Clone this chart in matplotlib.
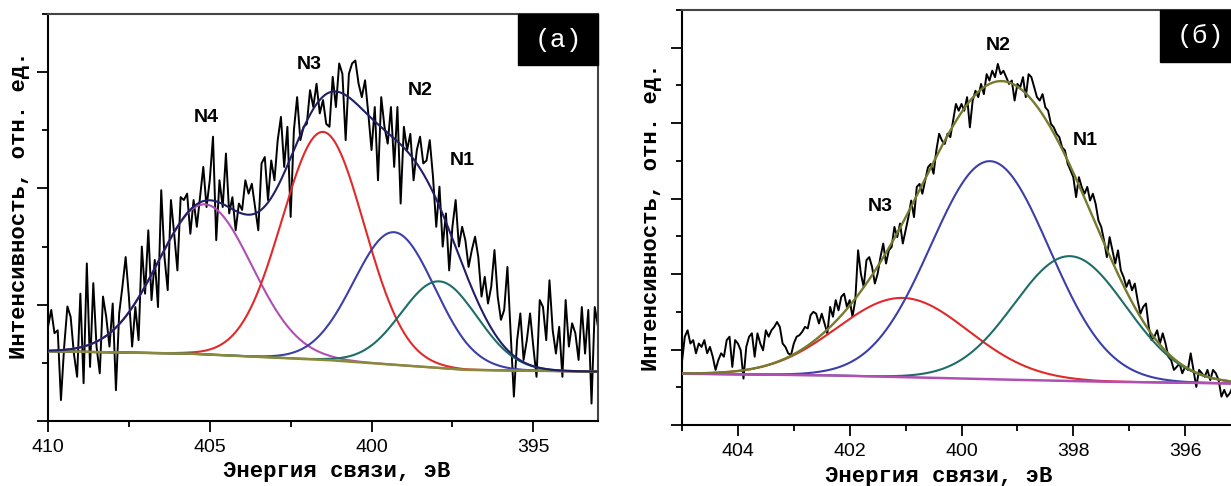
import numpy as np
import matplotlib
matplotlib.use('Agg')
import matplotlib.pyplot as plt
from matplotlib.ticker import MultipleLocator
from matplotlib.patches import Rectangle

plt.rcParams['font.family'] = ['Liberation Sans', 'DejaVu Sans']

# ---------- панель (а): спектр N1s, шаг 0.1 эВ от 410 до 393 ----------
int_a = [
    1.62, 1.91, 1.51, 1.56, 0.36, 1.28, 1.97, 1.79, 1.16, 0.76, 2.19, 0.65, 2.71, 0.93, 2.37,
    1.28, 0.82, 2.14, 1.79, 1.28, 2.02, 0.53, 1.85, 2.31, 2.82, 2.14, 1.28, 1.96, 1.39, 3.00,
    2.19, 3.28, 2.08, 2.77, 1.96, 3.97, 2.82, 2.25, 3.80, 3.22, 2.59, 3.85, 3.80,
    3.91, 3.22, 3.80, 3.34, 3.85, 4.37, 3.68, 4.14, 4.89, 3.11, 4.14, 3.68, 4.60, 3.57, 3.85,
    3.28, 3.74, 3.63, 4.14, 3.91, 4.08, 3.68, 3.28, 4.43, 4.54, 3.80, 4.48, 4.14, 4.83, 5.23,
    4.37, 5.06, 3.51, 5.00, 5.57, 4.83, 5.06, 5.11, 5.69, 5.40, 5.80, 5.29, 5.52, 5.11,
    5.06, 5.92, 5.40, 6.15, 5.97, 4.83, 5.97, 6.15, 6.20, 5.80, 5.57, 5.86, 5.29, 4.66, 5.40,
    4.14, 5.57, 5.06, 4.77, 5.40, 4.37, 5.40, 3.74, 5.06, 4.66, 4.94, 4.14, 4.66, 4.89, 4.43,
    4.48, 4.83, 4.20, 3.34, 4.03, 3.00, 3.57, 2.59, 3.34, 3.80, 3.00, 3.34,
    3.11, 2.65, 2.94, 3.17, 2.82, 2.14, 2.48, 2.02, 2.31, 2.94, 2.14, 1.74, 1.91, 2.65, 1.51,
    0.42, 1.39, 1.85, 1.05, 1.39, 1.85, 1.28, 0.76, 2.08, 1.96, 1.39, 2.42, 1.56, 1.16, 1.62,
    0.76, 2.08, 1.28, 1.68, 1.51, 1.05, 1.96, 1.16, 1.91, 0.30, 1.96, 1.62,
]
bg_a_e = [393.0, 397.1, 401.4, 405.7, 410.0]
bg_a_i = [0.85, 0.88, 1.05, 1.16, 1.20]
names_a = ['N4', 'N3', 'N2', 'N1']
center_a = [405.15, 401.5, 399.3, 397.9]
height_a = [2.58, 3.92, 2.28, 1.49]
sigma_a = [1.45, 1.27, 1.25, 1.18]

# ---------- панель (б): шаг 0.05 эВ от 405 до 395.1 ----------
int_b = [
    1.68, 2.34, 2.51, 2.16, 2.25, 1.90, 2.16, 2.07, 2.25, 1.90, 2.07, 1.81, 1.46, 1.72, 1.90,
    1.81, 2.25, 2.34, 1.54, 2.25, 2.16, 1.98, 1.23, 2.07, 2.34, 2.43, 1.81, 2.43, 2.16, 1.98,
    2.51, 2.34, 2.51, 2.60, 2.73, 2.60, 2.16, 2.07, 1.90, 1.85, 2.16, 2.34, 2.38, 2.47, 2.60,
    2.56, 2.91, 3.00, 2.95, 2.69,
    2.95, 2.69, 2.43, 3.13, 2.87, 3.31, 3.04, 3.40, 3.48, 3.13, 3.31, 2.87, 3.31, 4.63, 4.01,
    3.66, 4.37, 4.45, 4.19, 3.75, 4.01, 4.45, 4.81, 4.28, 4.63, 4.72, 5.25, 4.98, 5.34, 4.81,
    5.16, 5.51, 5.95, 5.51, 6.31, 6.39, 6.13, 6.48, 6.83, 6.92, 6.66, 7.28, 7.72, 7.54, 7.45,
    7.72, 7.63, 8.07, 8.51, 8.33,
    8.51, 8.33, 8.69, 7.89, 8.60, 8.86, 8.69, 9.04, 8.77, 9.30, 9.13, 9.39, 9.22, 9.57, 9.30,
    9.39, 9.22, 9.04, 9.13, 8.60, 9.04, 8.95, 9.22, 8.69, 9.30, 9.22, 8.95, 8.69, 8.60, 8.77,
    8.42, 8.33, 7.98, 7.89, 7.72, 7.63, 7.36, 7.28, 6.92, 6.75, 6.57, 6.04, 6.57, 6.31, 6.13,
    6.31, 5.95, 6.13, 5.86, 5.42,
    5.25, 4.89, 4.45, 4.98, 4.63, 4.28, 4.63, 4.10, 3.92, 3.66, 3.84, 3.57, 3.75, 3.31, 2.95,
    3.13, 3.22, 2.60, 2.25, 2.34, 2.51, 2.16, 2.43, 2.16, 1.81, 1.72, 1.46, 1.54, 1.63, 1.37,
    1.54, 1.46, 1.90, 1.46, 1.01, 1.46, 1.37, 1.28, 1.46, 1.19, 1.46, 1.37, 1.19, 0.75, 0.93,
    0.75, 0.84, 1.01, 1.19,
]
bg_b_e = [395.0, 397.6, 400.0, 402.5, 405.0]
bg_b_i = [1.10, 1.15, 1.23, 1.32, 1.36]
names_b = ['N3', 'N2', 'N1']
center_b = [401.05, 399.49, 398.06]
height_b = [2.10, 5.78, 3.31]
sigma_b = [1.17, 1.06, 1.00]

# цвета компонент
col_a = ['#b04fb4', '#e02a2a', '#3c3fa8', '#1e6e68']
col_b = ['#e02a2a', '#3c3fa8', '#1e6e68']
env_a_color = '#1f1f66'
bg_a_color = '#8a8a3a'
env_b_color = '#767a2c'
bg_b_color = '#b04fb4'


def gauss(e, c, h, s):
    return h * np.exp(-(e - c) ** 2 / (2 * s ** 2))


def style_axes(ax, xmaj, xmin):
    ax.xaxis.set_major_locator(MultipleLocator(xmaj))
    ax.xaxis.set_minor_locator(MultipleLocator(xmin))
    ax.yaxis.set_major_locator(MultipleLocator(2))
    ax.yaxis.set_minor_locator(MultipleLocator(1))
    ax.tick_params(which='major', direction='out', length=8, width=1.3, labelsize=14, pad=5)
    ax.tick_params(which='minor', direction='out', length=4, width=1.3)
    ax.tick_params(axis='y', labelleft=False)
    for s in ax.spines.values():
        s.set_linewidth(1.5)
    ax.spines['top'].set_color('#444444')
    ax.spines['right'].set_color('#444444')


def corner_box(ax, text):
    ax.add_patch(Rectangle((0.855, 0.875), 0.145, 0.125, transform=ax.transAxes,
                           color='black', zorder=10, clip_on=False))
    ax.text(0.928, 0.937, text, transform=ax.transAxes, color='white', fontsize=19,
            family='Liberation Mono', ha='center', va='center', zorder=11)


fig = plt.figure(figsize=(12.31, 4.86), dpi=100)
lab_font = dict(family='Liberation Mono', fontweight='bold', fontsize=16)
peak_font = dict(fontweight='bold', fontsize=14, ha='center', va='center')

# ----- (а) -----
ax1 = fig.add_axes([48 / 1231, 65 / 486, 550 / 1231, 407 / 486])
e_a = np.linspace(410, 393, len(int_a))
ef_a = np.linspace(410, 393, 700)
base_a = np.interp(ef_a, bg_a_e, bg_a_i)
ax1.plot(e_a, int_a, color='black', lw=1.4, zorder=2)
total_a = base_a.copy()
for c, h, s, col in zip(center_a, height_a, sigma_a, col_a):
    comp = gauss(ef_a, c, h, s)
    total_a += comp
    ax1.plot(ef_a, base_a + comp, color=col, lw=1.5, zorder=3)
ax1.plot(ef_a, base_a, color=bg_a_color, lw=1.8, zorder=3)
ax1.plot(ef_a, total_a, color=env_a_color, lw=1.5, zorder=4)
ax1.set_xlim(410, 393)
ax1.set_ylim(0, 7)
style_axes(ax1, 5, 2.5)
ax1.set_xlabel('Энергия связи, эВ', va='top', **lab_font)
ax1.xaxis.set_label_coords(0.525, -0.098)
ax1.set_ylabel('Интенсивность, отн. ед.', **lab_font)
ax1.yaxis.set_label_coords(-0.033, 0.53)
for n, x, y in zip(names_a, [405.12, 401.93, 398.51, 397.2], [5.22, 6.13, 5.69, 4.48]):
    ax1.text(x, y, n, **peak_font)
corner_box(ax1, '(а)')

# ----- (б) -----
ax2 = fig.add_axes([682 / 1231, 61 / 486, 559 / 1231, 415 / 486])
e_b = np.linspace(405, 395.1, len(int_b))
ef_b = np.linspace(405, 395, 700)
base_b = np.interp(ef_b, bg_b_e, bg_b_i)
ax2.plot(e_b, int_b, color='black', lw=1.4, zorder=2)
total_b = base_b.copy()
for c, h, s, col in zip(center_b, height_b, sigma_b, col_b):
    comp = gauss(ef_b, c, h, s)
    total_b += comp
    ax2.plot(ef_b, base_b + comp, color=col, lw=1.5, zorder=3)
ax2.plot(ef_b, base_b, color=bg_b_color, lw=1.8, zorder=3)
ax2.plot(ef_b, total_b, color=env_b_color, lw=1.7, zorder=4)
ax2.set_xlim(405, 395)
ax2.set_ylim(0, 11)
style_axes(ax2, 2, 1)
ax2.set_xlabel('Энергия связи, эВ', va='top', **lab_font)
ax2.xaxis.set_label_coords(0.46, -0.098)
ax2.set_ylabel('Интенсивность, отн. ед.', **lab_font)
ax2.yaxis.set_label_coords(-0.036, 0.50)
for n, x, y in zip(names_b, [401.46, 399.35, 397.79], [5.79, 10.05, 7.54]):
    ax2.text(x, y, n, **peak_font)
corner_box(ax2, '(б)')

fig.savefig('out.png', dpi=100)
